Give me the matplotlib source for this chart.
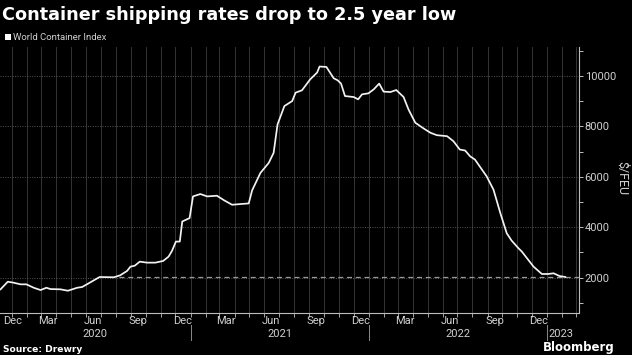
import datetime as dt
import numpy as np
import matplotlib as mpl
import matplotlib.pyplot as plt
import matplotlib.dates as mdates
import matplotlib.transforms as mtransforms

# Drewry World Container Index, $/FEU
DATES = [
    "2019-12-09", "2019-12-24", "2020-01-05", "2020-01-19", "2020-01-31",
    "2020-02-15", "2020-02-29", "2020-03-12", "2020-03-20", "2020-04-10",
    "2020-04-25", "2020-05-14", "2020-05-24", "2020-06-05", "2020-06-17",
    "2020-06-29", "2020-07-28", "2020-08-10", "2020-08-24", "2020-08-31",
    "2020-09-09", "2020-09-19", "2020-10-04", "2020-10-21", "2020-11-06",
    "2020-11-17", "2020-11-24", "2020-12-02", "2020-12-10", "2020-12-15",
    "2020-12-30", "2021-01-06", "2021-01-21", "2021-02-04", "2021-02-24",
    "2021-03-11", "2021-03-27", "2021-04-13", "2021-04-30", "2021-05-07",
    "2021-05-24", "2021-06-10", "2021-06-20", "2021-06-28", "2021-07-12",
    "2021-07-28", "2021-08-04", "2021-08-17", "2021-09-03", "2021-09-17",
    "2021-09-22", "2021-10-06", "2021-10-21", "2021-10-29", "2021-11-05",
    "2021-11-13", "2021-12-01", "2021-12-10", "2021-12-18", "2021-12-31",
    "2022-01-11", "2022-01-22", "2022-01-31", "2022-02-14", "2022-02-26",
    "2022-03-13", "2022-03-23", "2022-04-06", "2022-04-23", "2022-05-07",
    "2022-05-20", "2022-06-10", "2022-06-23", "2022-07-06", "2022-07-17",
    "2022-07-27", "2022-08-06", "2022-08-30", "2022-09-13", "2022-09-27",
    "2022-10-10", "2022-10-20", "2022-11-03", "2022-11-10", "2022-12-04",
    "2022-12-21", "2023-01-03", "2023-01-14", "2023-01-26", "2023-02-07",
]
WCI = [
    1538, 1841, 1801, 1737, 1737,
    1602, 1510, 1602, 1550, 1538,
    1483, 1602, 1630, 1761, 1896,
    2028, 2016, 2095, 2267, 2438,
    2478, 2637, 2597, 2597, 2665,
    2836, 3063, 3433, 3433, 4229,
    4364, 5224, 5318, 5224, 5251,
    5065, 4893, 4920, 4945, 5463,
    6155, 6553, 6951, 8077, 8806,
    9005, 9339, 9431, 9869, 10135,
    10374, 10358, 9908, 9829, 9697,
    9204, 9164, 9073, 9272, 9311,
    9471, 9697, 9379, 9363, 9443,
    9164, 8675, 8145, 7918, 7747,
    7652, 7612, 7413, 7082, 7043,
    6816, 6685, 6020, 5491, 4563,
    3767, 3473, 3170, 3035, 2438,
    2147, 2147, 2175, 2068, 2027,
]
LOW_SINCE = "2020-08-08"   # start of the dashed "lowest since" marker
Y_TICKS = [2000, 4000, 6000, 8000, 10000]
YEARS = [2020, 2021, 2022, 2023]

BG = "#000000"
LINE = "#f2f2f2"
GRID = "#3c3c3c"
TEXT = "#d0d0d0"
AXIS = "#bdbdbd"

mpl.rcParams.update({
    "font.family": ["Roboto", "DejaVu Sans"],
    "axes.facecolor": BG,
    "figure.facecolor": BG,
})


def d(s):
    return dt.datetime.strptime(s, "%Y-%m-%d")


def main():
    dates = [d(s) for s in DATES]
    values = np.array(WCI)

    fig = plt.figure(figsize=(6.32, 3.55), dpi=100)
    ax = fig.add_axes([0.0, 0.1183, 579 / 632, 0.7494])

    x0 = dt.datetime(2019, 12, 8)
    x1 = dt.datetime(2023, 3, 7)
    ax.set_xlim(x0, x1)
    ax.set_ylim(600, 11150)

    ax.plot(dates, values, color=LINE, linewidth=1.25, zorder=4)
    ax.hlines(values[-1], d(LOW_SINCE), x1, colors="#9a9a9a",
              linestyles=(0, (4, 3)), linewidth=0.9, zorder=3)

    # axes styling: right y axis, bottom x axis
    for side in ("top", "left"):
        ax.spines[side].set_visible(False)
    for side in ("right", "bottom"):
        ax.spines[side].set_color(AXIS)
        ax.spines[side].set_linewidth(0.8)

    ax.yaxis.tick_right()
    ax.set_yticks(Y_TICKS)
    ax.set_yticklabels([str(v) for v in Y_TICKS])
    ax.set_yticks(np.arange(1000, 11001, 1000), minor=True)
    ax.tick_params(axis="y", which="both", colors=AXIS, labelcolor=TEXT,
                   labelsize=8, length=3, width=0.7, pad=1)
    fig.text(622 / 632, 1 - 178 / 355, "$/FEU", color=TEXT, fontsize=9,
             rotation=270, ha="center", va="center")

    # months: ticks at month starts, labels mid-month every quarter
    ax.xaxis.set_major_locator(mdates.MonthLocator())
    ax.xaxis.set_major_formatter(mpl.ticker.NullFormatter())
    ax.xaxis.set_minor_locator(mdates.MonthLocator(bymonth=[12, 3, 6, 9], bymonthday=15))
    ax.xaxis.set_minor_formatter(mdates.DateFormatter("%b"))
    ax.tick_params(axis="x", which="major", colors=AXIS, length=3, width=0.6)
    ax.tick_params(axis="x", which="minor", length=0, labelcolor=TEXT,
                   labelsize=8, pad=2)
    first = ax.get_xticklabels(minor=True)[0]
    first.set_horizontalalignment("left")

    ax.grid(axis="x", which="major", color=GRID, linewidth=0.6, linestyle="-")
    ax.grid(axis="y", which="major", color="#555555", linewidth=0.7,
            linestyle=(0, (1, 1.5)))
    ax.set_axisbelow(True)

    # year groups under month labels
    trans = mtransforms.blended_transform_factory(ax.transData, ax.transAxes)
    starts = [x0] + [dt.datetime(y, 1, 1) for y in YEARS[1:]]
    for s in starts[1:]:
        ax.plot([s, s], [-0.045, -0.102], transform=trans, color="#8a8a8a",
                linewidth=0.7, clip_on=False)
    for i, y in enumerate(YEARS[:-1]):
        mid = starts[i] + (starts[i + 1] - starts[i]) / 2
        ax.text(mid, -0.08, str(y), transform=trans, ha="center", va="center",
                color=TEXT, fontsize=8)
    ax.text(starts[-1] + dt.timedelta(days=3), -0.08, str(YEARS[-1]),
            transform=trans, ha="left", va="center", color=TEXT, fontsize=8)

    # title, legend, footer
    fig.text(0.003, 0.957, "Container shipping rates drop to 2.5 year low",
             color="white", fontsize=12.7, fontweight="bold", ha="left",
             va="center", family="DejaVu Sans")
    fig.patches.append(mpl.patches.Rectangle((5 / 632, 1 - 40 / 355), 6 / 632, 6 / 355,
                                             transform=fig.transFigure,
                                             facecolor="white", edgecolor="none"))
    fig.text(13 / 632, 1 - 37 / 355, "World Container Index", color=TEXT,
             fontsize=6.8, ha="left", va="center")
    fig.text(3 / 632, 1 - 349 / 355, "Source: Drewry", color="white",
             fontsize=6.6, fontweight="bold", ha="left", va="center",
             family="DejaVu Sans")
    fig.text(615 / 632, 1 - 347 / 355, "Bloomberg", color="white",
             fontsize=8.5, fontweight="bold", ha="right", va="center",
             family="DejaVu Sans")

    fig.savefig("out.png", dpi=100, facecolor=BG)
    plt.close(fig)


if __name__ == "__main__":
    main()
